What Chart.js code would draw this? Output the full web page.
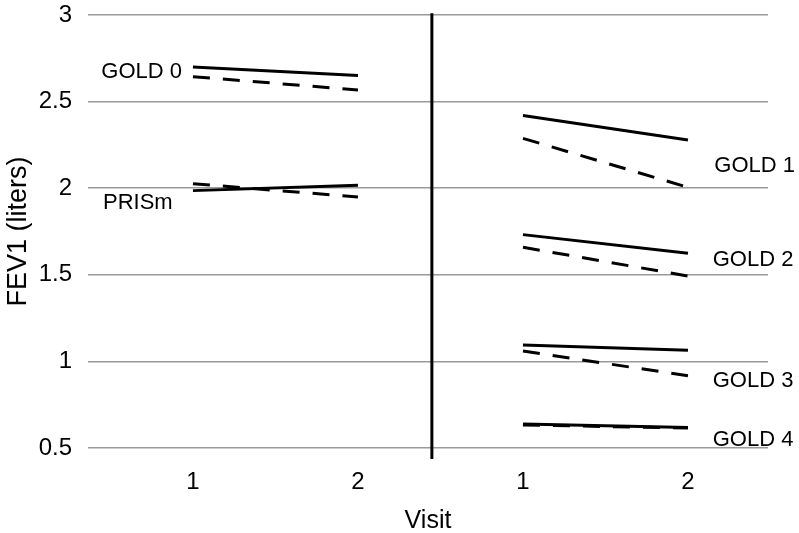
<!DOCTYPE html>
<html>
<head>
<meta charset="utf-8">
<script src="https://cdn.jsdelivr.net/npm/chart.js@4.4.1/dist/chart.umd.min.js"></script>
<style>
  html, body { margin: 0; padding: 0; background: #fff; }
  #wrap { width: 799px; height: 533px; }
</style>
</head>
<body>
<div id="wrap"><canvas id="c" width="799" height="533"></canvas></div>
<script>
// ---- data ----
const visitLabels = ["1", "2", "1", "2"];
const groups = ["GOLD 0", "PRISm", "GOLD 1", "GOLD 2", "GOLD 3", "GOLD 4"];
// panel: 0 = left (visit positions 0,1), 1 = right (visit positions 2,3)
const groupPanel = [0, 0, 1, 1, 1, 1];
const solidVisit1  = [2.70, 1.986, 2.42, 1.732, 1.095, 0.639];
const solidVisit2  = [2.65, 2.017, 2.278, 1.624, 1.064, 0.619];
const dashedVisit1 = [2.644, 2.026, 2.288, 1.659, 1.060, 0.633];
const dashedVisit2 = [2.567, 1.949, 2.005, 1.493, 0.917, 0.615];
const yTicks = [0.5, 1, 1.5, 2, 2.5, 3];

// ---- annotation placement (not data) ----
const labelY = [2.673, 1.915, 2.131, 1.585, 0.887, 0.546];
const labelX = [-0.555, -0.545, 3.16, 3.15, 3.15, 3.15];
const dividerX = 1.448;
const FONT = "'Liberation Sans', Arial, Helvetica, sans-serif";

const datasets = [];
groups.forEach((g, i) => {
  const x0 = groupPanel[i] * 2;
  datasets.push({
    label: g + " solid",
    data: [{x: x0, y: solidVisit1[i]}, {x: x0 + 1, y: solidVisit2[i]}],
    borderColor: '#000', borderWidth: 3, pointRadius: 0, fill: false
  });
  datasets.push({
    label: g + " dashed",
    data: [{x: x0, y: dashedVisit1[i]}, {x: x0 + 1, y: dashedVisit2[i]}],
    borderColor: '#000', borderWidth: 3, borderDash: [17, 13], pointRadius: 0, fill: false
  });
});
datasets.push({
  label: 'divider',
  data: [{x: dividerX, y: 0.436}, {x: dividerX, y: 3.01}],
  borderColor: '#000', borderWidth: 3, pointRadius: 0, clip: false, fill: false
});

const labelPlugin = {
  id: 'groupLabels',
  afterDatasetsDraw(chart) {
    const ctx = chart.ctx;
    const xs = chart.scales.x, ys = chart.scales.y;
    ctx.save();
    ctx.fillStyle = '#000';
    ctx.font = '22px ' + FONT;
    ctx.textAlign = 'left';
    ctx.textBaseline = 'middle';
    groups.forEach((g, i) => {
      ctx.fillText(g, xs.getPixelForValue(labelX[i]), ys.getPixelForValue(labelY[i]));
    });
    ctx.restore();
  }
};

new Chart(document.getElementById('c'), {
  type: 'line',
  data: { datasets },
  plugins: [labelPlugin],
  options: {
    responsive: false,
    animation: false,
    layout: { padding: { top: 15, right: 31, bottom: 0, left: 0 } },
    plugins: { legend: { display: false }, tooltip: { enabled: false } },
    scales: {
      x: {
        type: 'linear',
        min: -0.636, max: 3.485,
        afterBuildTicks(scale) { scale.ticks = [0, 1, 2, 3].map(v => ({ value: v })); },
        afterFit(scale) { scale.height = 85; scale.paddingLeft = 0; scale.paddingRight = 0; },
        ticks: {
          callback: (v) => visitLabels[v],
          color: '#000', font: { family: FONT, size: 24 }, padding: 20, maxRotation: 0, autoSkip: false
        },
        grid: { display: false, drawTicks: false },
        border: { display: false },
        title: { display: true, text: 'Visit', color: '#000', font: { family: FONT, size: 25 }, padding: { top: 0, bottom: -3 } }
      },
      y: {
        type: 'linear',
        min: 0.5, max: 3,
        afterBuildTicks(scale) { scale.ticks = yTicks.map(v => ({ value: v })); },
        afterFit(scale) { scale.width = 88; scale.paddingTop = 0; scale.paddingBottom = 0; },
        ticks: { callback: (v) => String(v), color: '#000', font: { family: FONT, size: 24 }, padding: 16 },
        grid: { color: '#9a9a9a', lineWidth: 1.5, drawTicks: false },
        border: { display: false },
        title: { display: true, text: 'FEV1 (liters)', color: '#000', font: { family: FONT, size: 27 }, padding: { top: 2, bottom: 0 } }
      }
    }
  }
});
</script>
</body>
</html>
